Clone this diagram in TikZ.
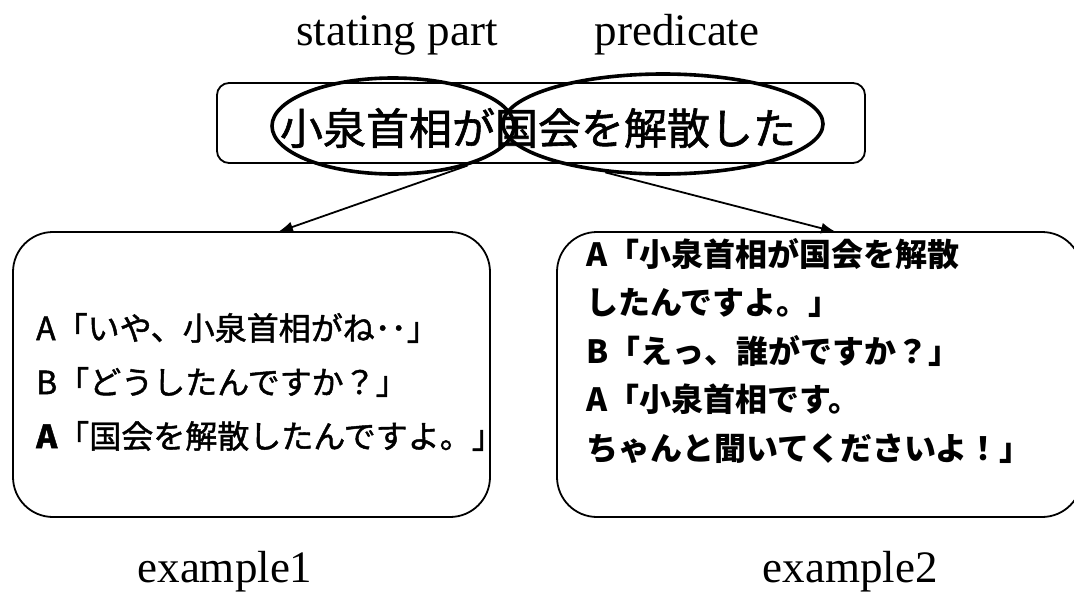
\documentclass[tikz,border=0pt]{standalone}
\usepackage{fontspec}
\setmainfont{Liberation Serif}
\newfontfamily\cjk{Noto Sans CJK JP}
\newfontfamily\cjkm[FakeBold=1.4]{Noto Sans CJK JP}
\usetikzlibrary{shapes.geometric,arrows.meta}
\tikzset{
  boxline/.style={draw=black, line width=1.8pt},
  ovalline/.style={draw=black, line width=3.6pt, ellipse, inner sep=0pt},
  conn/.style={draw=black, line width=1.8pt, -{Latex[length=15pt,width=11pt]}},
  serifl/.style={font=\fontsize{45}{48}\selectfont, inner sep=0pt},
  dialog/.style={font=\cjkm\fontsize{32}{54}\selectfont, align=left, inner sep=0pt, anchor=west},
}
\begin{document}
\begin{tikzpicture}[x=1pt,y=-1pt]
\useasboundingbox (0,0) rectangle (1074,599);
\clip (0,0) rectangle (1074,599);
% labels
\node[serifl] (lstate) at (397,35) {stating part};
\node[serifl] (lpred) at (677,35) {predicate};
\node[serifl] (lex1) at (225,572) {example1};
\node[serifl] (lex2) at (850,572) {example2};
% top sentence box
\node[boxline, rounded corners=12pt, minimum width=648pt, minimum height=80pt] (top) at (541,123) {};
\node[font=\cjkm\fontsize{43}{48}\selectfont, inner sep=0pt] (sent) at (538,128) {小泉首相が国会を解散した};
% ovals
\node[ovalline, minimum width=242pt, minimum height=96pt] (subj) at (393,126) {};
\node[ovalline, minimum width=320pt, minimum height=100pt] (pred) at (663,124) {};
% example boxes
\node[boxline, rounded corners=40pt, minimum width=477pt, minimum height=285pt] (ex1) at (251.5,374.5) {};
\node[boxline, rounded corners=40pt, minimum width=525pt, minimum height=285pt] (ex2) at (819.5,374.5) {};
% connectors
\coordinate (t1) at (278,232);
\coordinate (t2) at (836,232);
\draw[conn] (subj.-28) -- (t1);
\draw[conn] (pred.-140) -- (t2);
% dialogs
\node[dialog] (d1) at (36,382) {A「いや、小泉首相がね･･」\\B「どうしたんですか？」\\{\bfseries A}「国会を解散したんですよ。」};
\node[dialog, font=\cjk\bfseries\fontsize{32}{48.5}\selectfont] (d2) at (586,351) {A「小泉首相が国会を解散\\したんですよ。」\\B「えっ、誰がですか？」\\A「小泉首相です。\\ちゃんと聞いてくださいよ！」};
\end{tikzpicture}
\end{document}
